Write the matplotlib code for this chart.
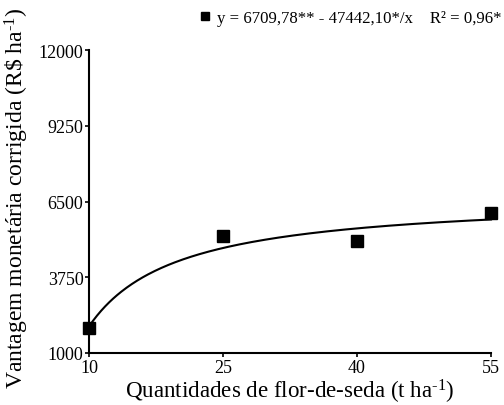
import numpy as np
import matplotlib
matplotlib.use("Agg")
import matplotlib.pyplot as plt

plt.rcParams['font.family'] = ['Liberation Serif', 'DejaVu Serif']
plt.rcParams['mathtext.fontset'] = 'custom'
plt.rcParams['mathtext.rm'] = 'Liberation Serif'
plt.rcParams['mathtext.it'] = 'Liberation Serif:italic'

# Data
quantities = [10, 25, 40, 55]
values = [1900, 5250, 5050, 6090]
coef_a = 6709.78
coef_b = -47442.10
x_ticks = [10, 25, 40, 55]
y_ticks = [1000, 3750, 6500, 9250, 12000]
eq_label = "y = 6709,78** - 47442,10*/x    R² = 0,96*"

fig = plt.figure(figsize=(5.04, 4.06), dpi=100)
ax = fig.add_axes([89/504, 1-354/406, (491-89)/504, (354-51)/406])

xs = np.linspace(10, 55, 300)
ax.plot(xs, coef_a + coef_b / xs, color='black', lw=1.5, clip_on=False, zorder=2)
sc, = ax.plot(quantities, values, 's', color='black', ms=8, clip_on=False, zorder=3, linestyle='none')

ax.set_xlim(10, 55)
ax.set_ylim(1000, 12000)
ax.set_xticks(x_ticks)
ax.set_yticks(y_ticks)
ax.set_xticklabels([str(t) for t in x_ticks])
ax.set_yticklabels([str(t) for t in y_ticks])
for s in ['top', 'right']:
    ax.spines[s].set_visible(False)
for s in ['left', 'bottom']:
    ax.spines[s].set_linewidth(1.5)
ax.tick_params(axis='both', labelsize=13, length=3, width=1.2, pad=1, colors='black')

ax.set_xlabel(r'Quantidades de flor-de-seda (t ha$^{\mathregular{\text{-}1}}$)', fontsize=16.6, labelpad=0)
ax.set_ylabel(r'Vantagem monetária corrigida (R\$ ha$^{\mathregular{\text{-}1}}$)', fontsize=17)
ax.xaxis.set_label_coords(0.5, -0.08)
ax.yaxis.set_label_coords(-0.145, 0.515)

fig.legend([sc], [eq_label], loc='center left', bbox_to_anchor=(195/504, 1-19/406),
           frameon=False, fontsize=12.1, handletextpad=0.1, handlelength=1.2,
           markerscale=0.7, borderpad=0, borderaxespad=0)

fig.savefig('out.png', dpi=100)
